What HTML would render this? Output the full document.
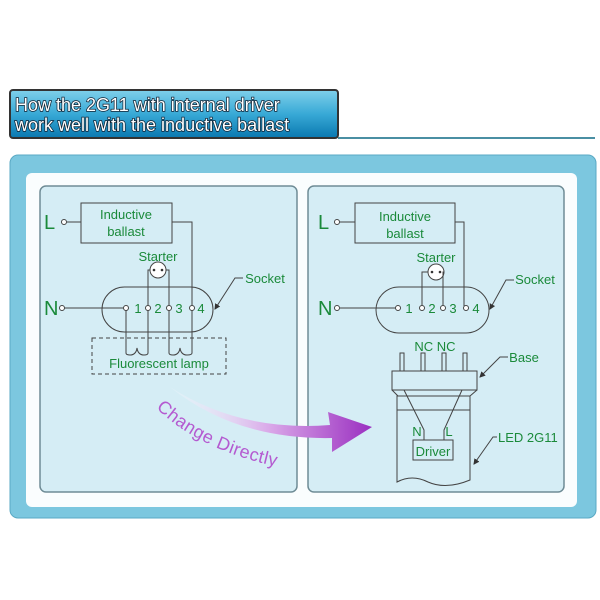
<!DOCTYPE html>
<html><head><style>
html,body{margin:0;padding:0;background:#fff;}
svg{display:block;font-family:"Liberation Sans",sans-serif;}
</style></head><body>
<svg width="600" height="600" viewBox="0 0 600 600">
<defs>
<linearGradient id="tg" x1="0" y1="0" x2="0" y2="1">
<stop offset="0" stop-color="#7fd0ea"/><stop offset="0.5" stop-color="#38a9d6"/><stop offset="1" stop-color="#0a78b0"/>
</linearGradient>
<linearGradient id="ag" x1="0" y1="0" x2="1" y2="0">
<stop offset="0" stop-color="#ffffff" stop-opacity="0.2"/><stop offset="0.5" stop-color="#d9a6e8"/><stop offset="1" stop-color="#9a2fc0"/>
</linearGradient>
<marker id="ar" markerWidth="6" markerHeight="6" refX="5" refY="3" orient="auto"><path d="M0,0 L6,3 L0,6 z" fill="#333"/></marker>
</defs>
<rect x="10" y="90" width="328" height="48" rx="3" fill="url(#tg)" stroke="#333" stroke-width="2"/>
<line x1="338" y1="138" x2="595" y2="138" stroke="#4a8fa3" stroke-width="2"/>
<g font-size="18" fill="#fff" style="paint-order:stroke" stroke="#123" stroke-width="1.5">
<text x="15" y="111">How the 2G11 with internal driver</text>
<text x="15" y="131">work well with the inductive ballast</text>
</g>
<rect x="10" y="155" width="586" height="363" rx="8" fill="#7cc7df" stroke="#5aa9c4"/>
<rect x="26" y="173" width="551" height="334" rx="6" fill="#fafdfe"/>
<rect x="40" y="186" width="257" height="306" rx="6" fill="#d5edf5" stroke="#6f8c96" stroke-width="1.5"/>
<rect x="308" y="186" width="256" height="306" rx="6" fill="#d5edf5" stroke="#6f8c96" stroke-width="1.5"/>

<g stroke="#444" stroke-width="1" fill="none">
<rect x="81" y="203" width="91" height="40"/>
<line x1="67" y1="222" x2="81" y2="222"/><circle cx="64" cy="222" r="2.5" fill="#fff"/>
<polyline points="172,222 192,222 192,306"/>
<rect x="102" y="287" width="111" height="45" rx="22.5"/>
<line x1="64" y1="308" x2="124" y2="308"/><circle cx="62" cy="308" r="2.5" fill="#fff"/>
<circle cx="158" cy="270" r="8" fill="#fff"/>
<polyline points="150,270 148,270 148,306"/><polyline points="166,270 169,270 169,306"/>
<circle cx="126" cy="308" r="2.5" fill="#fff"/><circle cx="148" cy="308" r="2.5" fill="#fff"/>
<circle cx="169" cy="308" r="2.5" fill="#fff"/><circle cx="192" cy="308" r="2.5" fill="#fff"/>
<path d="M126,310 V353 Q126,355 130,355 Q136,355 137,348 Q138,355 144,355 Q148,355 148,353 V310"/>
<path d="M169,310 V353 Q169,355 173,355 Q179,355 180,348 Q181,355 187,355 Q192,355 192,353 V310"/>
<rect x="92" y="338" width="134" height="36" stroke-dasharray="4,3"/>
<polyline points="243,278 235,278 215,309" marker-end="url(#ar)"/>
<rect x="355" y="203" width="100" height="40"/>
<line x1="340" y1="222" x2="355" y2="222"/><circle cx="337" cy="222" r="2.5" fill="#fff"/>
<polyline points="455,222 464,222 464,306"/>
<rect x="376" y="287" width="113" height="46" rx="23"/>
<line x1="340" y1="308" x2="396" y2="308"/><circle cx="337" cy="308" r="2.5" fill="#fff"/>
<circle cx="436" cy="272" r="8" fill="#fff"/>
<polyline points="428,272 422,272 422,306"/><polyline points="444,272 443,272 443,306"/>
<circle cx="398" cy="308" r="2.5" fill="#fff"/><circle cx="422" cy="308" r="2.5" fill="#fff"/>
<circle cx="443" cy="308" r="2.5" fill="#fff"/><circle cx="466" cy="308" r="2.5" fill="#fff"/>
<polyline points="514,280 506,280 490,309" marker-end="url(#ar)"/>
<polyline points="508,357 500,357 480,377" marker-end="url(#ar)"/>
<rect x="400" y="353" width="4" height="18"/><rect x="421" y="353" width="4" height="18"/>
<rect x="442" y="353" width="4" height="18"/><rect x="463" y="353" width="4" height="18"/>
<rect x="392" y="371" width="85" height="19"/>
<path d="M392,390 L398,396 L470,396 L477,390"/>
<rect x="397" y="396" width="73" height="14"/>
<path d="M397,410 V482 Q412,474 428,482 Q446,490 470,480 V410"/>
<polyline points="404,390 424,430 424,440"/><polyline points="462,390 444,430 444,440"/>
<rect x="413" y="440" width="40" height="20"/>
<polyline points="497,437 493,437 474,464" marker-end="url(#ar)"/>
</g>
<g fill="#333"><circle cx="154" cy="270" r="1.3"/><circle cx="162" cy="270" r="1.3"/>
<circle cx="432" cy="272" r="1.3"/><circle cx="440" cy="272" r="1.3"/></g>
<g fill="#1a8a3a" font-size="13" text-anchor="middle">
<text x="126" y="219">Inductive</text><text x="126" y="236">ballast</text>
<text x="158" y="261">Starter</text>
<text x="265" y="283">Socket</text>
<text x="138" y="313">1</text><text x="158" y="313">2</text><text x="179" y="313">3</text><text x="201" y="313">4</text>
<text x="159" y="368">Fluorescent lamp</text>
<text x="405" y="221">Inductive</text><text x="405" y="238">ballast</text>
<text x="436" y="262">Starter</text>
<text x="535" y="284">Socket</text>
<text x="409" y="313">1</text><text x="432" y="313">2</text><text x="453" y="313">3</text><text x="476" y="313">4</text>
<text x="435" y="351">NC NC</text>
<text x="524" y="362">Base</text>
<text x="417" y="436">N</text><text x="449" y="436">L</text>
<text x="433" y="456">Driver</text>
</g>
<text x="498" y="442" fill="#1a8a3a" font-size="13">LED 2G11</text>
<g fill="#1a8a3a" font-size="20"><text x="44" y="229">L</text><text x="44" y="315">N</text>
<text x="318" y="229">L</text><text x="318" y="315">N</text></g>
<path d="M170,387 Q240,432 330,425 L328,412 L372,427 L332,452 L332,438 Q236,440 170,387 Z" fill="url(#ag)"/>
<path id="tp" d="M156,408 Q205,455 295,470" fill="none"/>
<text font-size="18" fill="#b45ad0" letter-spacing="0.5"><textPath href="#tp">Change  Directly</textPath></text>
</svg>
</body></html>
